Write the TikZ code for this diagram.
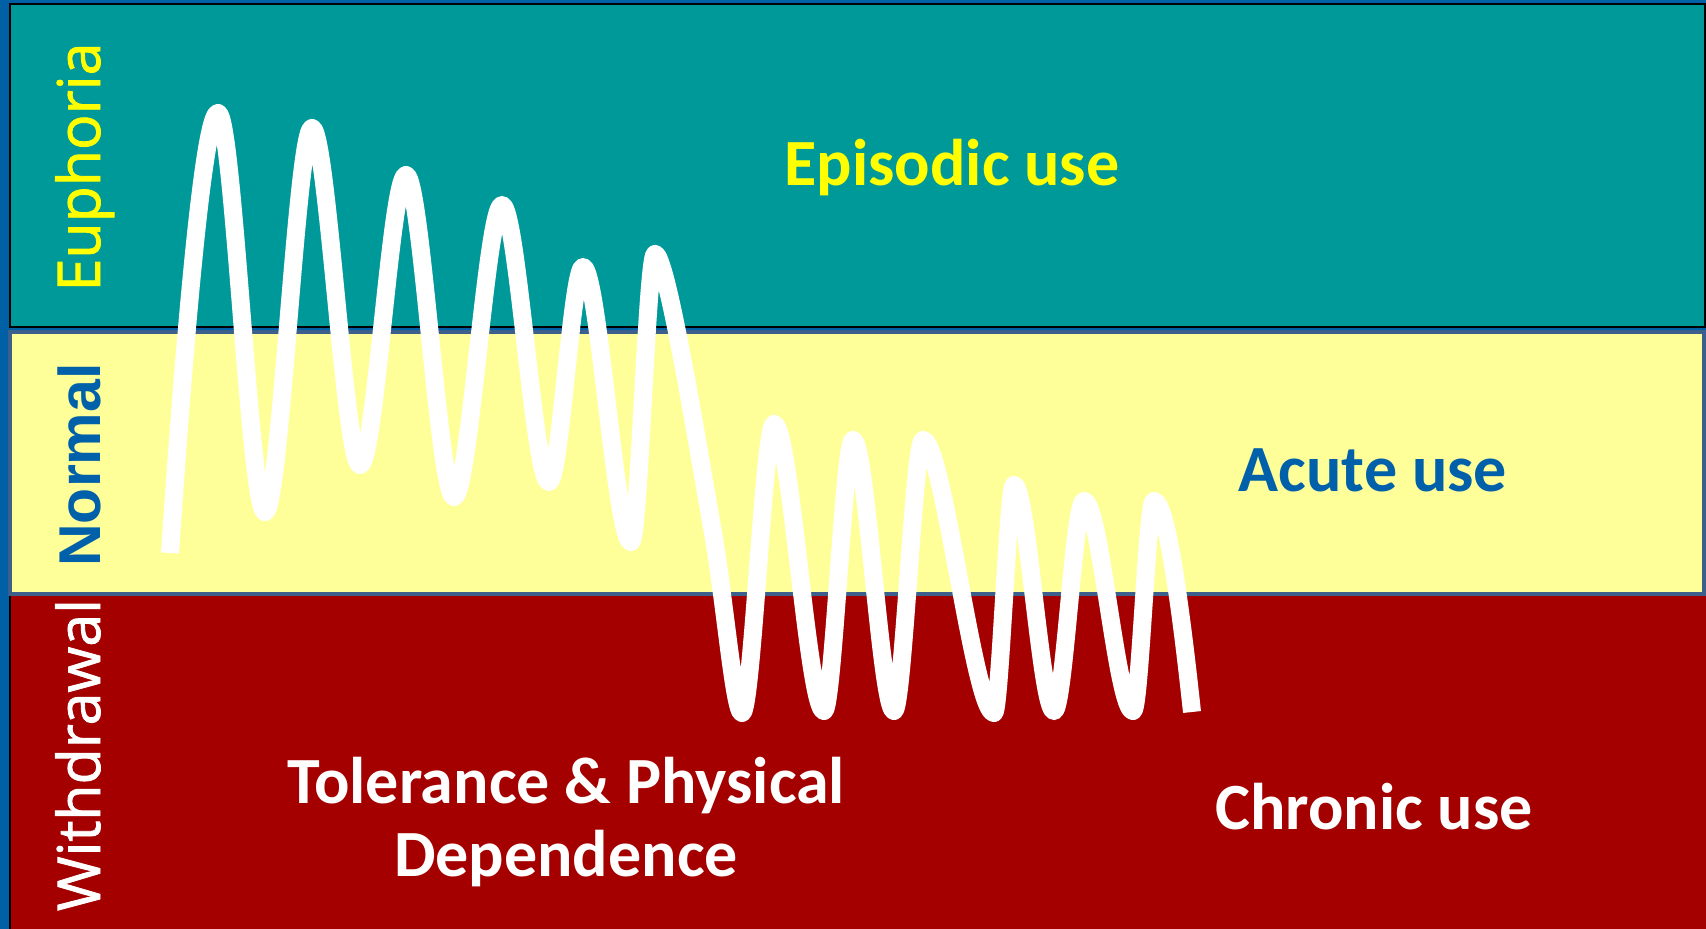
\documentclass[tikz,border=0pt]{standalone}
\usepackage{fontspec}
\setmainfont{Carlito}
\newfontfamily\osans[FakeBold=1.4]{Open Sans}
\newfontfamily\lsans{Liberation Sans}
\definecolor{bgblue}{HTML}{0060A6}
\definecolor{euteal}{HTML}{009999}
\definecolor{normyel}{HTML}{FFFF99}
\definecolor{withred}{HTML}{A50000}
\definecolor{ybord}{HTML}{3C5F8C}
\definecolor{txtblue}{HTML}{0060AA}
\definecolor{txtyel}{HTML}{FFFF00}
\begin{document}
\begin{tikzpicture}[x=1pt,y=-1pt,
  sidelab/.style={inner sep=0pt, rotate=90, anchor=base, font=\fontsize{59}{66}\selectfont},
  uselab/.style={inner sep=0pt, anchor=base, font=\fontsize{66}{73}\selectfont\bfseries},
  curve/.style={white, line width=18pt, line join=round}]
\useasboundingbox (0,0) rectangle (1706,929);
\fill[bgblue] (0,0) rectangle (1706,929);
\fill[withred] (10,595) rectangle (1706,929);
\draw[black, line width=2pt] (10,929) -- (10,595);
\filldraw[fill=euteal, draw=black, line width=2pt] (10,4) rectangle (1705,327);
\filldraw[fill=normyel, draw=ybord, line width=4pt] (10,332) rectangle (1704,594);

% zone labels
\node[sidelab, text=txtyel] (euph) at (100,167) {\osans Euphoria};
\node[sidelab, text=txtblue] (norm) at (100,465) {\lsans\bfseries Normal};
\node[sidelab, text=white] (withd) at (100,755) {\osans Withdrawal};

\node[uselab, text=txtyel] (epis) at (952,185) {Episodic use};
\node[uselab, text=txtblue] (acute) at (1373,491) {Acute use};
\node[uselab, text=white] (chron) at (1374,829) {Chronic use};
\node[uselab, text=white, align=center] (toler) at (566,876) {Tolerance \& Physical\\Dependence};

% curve
\draw[curve] (170,553) .. controls (185,330) and (204,113) .. (218,113)
  .. controls +(15,0) and +(-15,0) .. (265,512)
  .. controls +(15,0) and +(-15,0) .. (312,128)
  .. controls +(15,0) and +(-15,0) .. (360,465)
  .. controls +(15,0) and +(-15,0) .. (406,175)
  .. controls +(15,0) and +(-15,0) .. (454,497)
  .. controls +(15,0) and +(-15,0) .. (502,205)
  .. controls +(15,0) and +(-15,0) .. (549,482)
  .. controls +(11,0) and +(-11,0) .. (583,267)
  .. controls +(15,0) and +(-15,0) .. (631,542)
  .. controls +(8,0) and +(-8,0) .. (655,254)
  .. controls +(12,0) and (700,460) .. (712,527)
  .. controls (725,600) and (734,713) .. (742,713)
  .. controls +(10,0) and +(-10,0) .. (774,424)
  .. controls +(16,0) and +(-16,0) .. (824,711)
  .. controls +(9,0) and +(-9,0) .. (853,440)
  .. controls +(13,0) and +(-13,0) .. (894,711)
  .. controls +(9,0) and +(-9,0) .. (923,440)
  .. controls +(20,0) and +(-20,0) .. (994,713)
  .. controls +(6,0) and +(-6,0) .. (1014,485)
  .. controls +(13,0) and +(-13,0) .. (1054,711)
  .. controls +(10,0) and +(-10,0) .. (1084,501)
  .. controls +(16,0) and +(-16,0) .. (1133,711)
  .. controls +(7,0) and +(-7,0) .. (1154,501)
  .. controls +(12,0) and (1180,600) .. (1192,712);
\end{tikzpicture}
\end{document}
